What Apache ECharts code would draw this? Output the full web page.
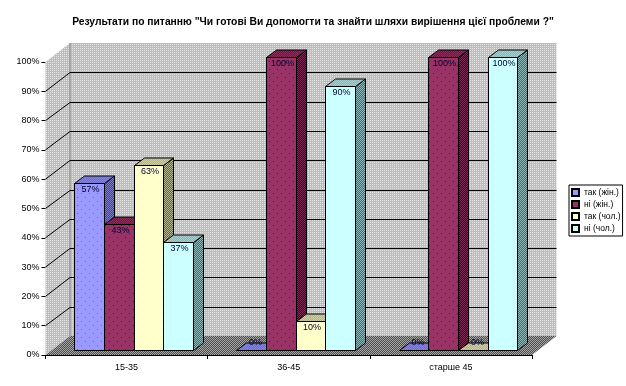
<!DOCTYPE html>
<html>
<head>
<meta charset="utf-8">
<style>html,body{margin:0;padding:0;background:#fff}#main{width:626px;height:386px}</style>
<script src="https://cdn.jsdelivr.net/npm/echarts@6/dist/echarts.min.js"></script>
</head>
<body>
<div id="main"></div>
<script>
var chart = echarts.init(document.getElementById('main'));

var titleText = 'Результати по питанню "Чи готові Ви допомогти та знайти шляхи вирішення цієї проблеми ?"';
var categories = ['15-35', '36-45', 'старше 45'];
var seriesNames = ['так (жін.)', 'ні (жін.)', 'так (чол.)', 'ні (чол.)'];
var yesFemale = [57, 0, 0];
var noFemale = [43, 100, 100];
var yesMale = [63, 10, 0];
var noMale = [37, 90, 100];
var gridTicks = [10, 20, 30, 40, 50, 60, 70, 80, 90];

// розміри псевдо-3D
var wallDx = 24.5, wallDy = -19;
var barShiftX = 7, barShiftY = -5;
var barDx = 10, barDy = -7.5;
var barRatio = 0.183;

// dither fills like the old Excel picture
function pattern(w, h, bg, dots, dotColor) {
    var c = document.createElement('canvas');
    c.width = w; c.height = h;
    var ctx = c.getContext('2d');
    ctx.fillStyle = bg;
    ctx.fillRect(0, 0, w, h);
    ctx.fillStyle = dotColor;
    dots.forEach(function (d) { ctx.fillRect(d[0], d[1], 1, 1); });
    return { image: c, repeat: 'repeat' };
}
function checker(a, b) {
    return pattern(2, 2, a, [[0, 0], [1, 1]], b);
}
function barDots(bg, dot) {
    return pattern(8, 8, bg, [[1, 1], [5, 5]], dot);
}

var wallFill = pattern(2, 2, '#bdbdbd', [[0, 0]], '#e4e4e4');
var floorFill = checker('#4c4c4c', '#a6a6a6');

var barStyles = [
    { color: '#9999ff', front: barDots('#9999ff', '#6a6ad0'), top: checker('#6f6fc4', '#8585e0'), side: checker('#3f3f8c', '#8080c8') },
    { color: '#993366', front: barDots('#993366', '#4c1a33'), top: checker('#5e1f3f', '#8a2e5c'), side: checker('#2a0e1c', '#7a2952') },
    { color: '#ffffcc', front: barDots('#ffffcc', '#f2f2d0'), top: checker('#b0b08c', '#d0d0a8'), side: checker('#60604c', '#b8b894') },
    { color: '#ccffff', front: barDots('#ccffff', '#eeffff'), top: checker('#88b4b4', '#a8d0d0'), side: checker('#4c6666', '#90b8b8') }
];

function px(v) { return Math.round(v) + 0.5; }

function renderWalls(params, api) {
    var cs = params.coordSys;
    var l = cs.x, r = cs.x + cs.width, t = cs.y, b = cs.y + cs.height;
    var children = [
        { type: 'polygon', shape: { points: [[l, t], [l + wallDx, t + wallDy], [r + wallDx, t + wallDy], [r + wallDx, b + wallDy], [l + wallDx, b + wallDy], [l, b]] }, style: { fill: wallFill } },
        { type: 'polygon', shape: { points: [[l, b], [r, b], [r + wallDx, b + wallDy], [l + wallDx, b + wallDy]] }, style: { fill: floorFill } },
        { type: 'line', shape: { x1: l + wallDx, y1: t + wallDy, x2: l + wallDx, y2: b + wallDy }, style: { stroke: '#808080', lineWidth: 1 } }
    ];
    return { type: 'group', children: children };
}

function renderGridLine(params, api) {
    var cs = params.coordSys;
    var y = api.coord([0, api.value(1)])[1];
    var l = cs.x, r = cs.x + cs.width;
    var yb = px(y + wallDy);
    return {
        type: 'group',
        children: [
            { type: 'line', shape: { x1: l, y1: y, x2: l + wallDx, y2: yb }, style: { stroke: '#000', lineWidth: 1 } },
            { type: 'line', shape: { x1: l + wallDx, y1: yb, x2: r + wallDx, y2: yb }, style: { stroke: '#000', lineWidth: 1 } }
        ]
    };
}

function renderBar(seriesIdx) {
    return function (params, api) {
        var v = api.value(1);
        var band = api.size([1, 0])[0];
        var w = band * barRatio;
        var top = api.coord([api.value(0), v]);
        var base = api.coord([api.value(0), 0]);
        var x0 = px(top[0] + barShiftX + (seriesIdx - 2) * w);
        var x1 = px(top[0] + barShiftX + (seriesIdx - 1) * w);
        var yT = px(top[1] + barShiftY);
        var yB = px(base[1] + barShiftY);
        var st = barStyles[seriesIdx];
        var line = { stroke: '#000', lineWidth: 1 };
        var children = [];
        if (v > 0) {
            children.push({ type: 'polygon', shape: { points: [[x1, yT], [x1 + barDx, yT + barDy], [x1 + barDx, yB + barDy], [x1, yB]] }, style: Object.assign({ fill: st.side }, line) });
            children.push({ type: 'rect', shape: { x: x0, y: yT, width: x1 - x0, height: yB - yT }, style: Object.assign({ fill: st.front }, line) });
        }
        children.push({ type: 'polygon', shape: { points: [[x0, yT], [x0 + barDx, yT + barDy], [x1 + barDx, yT + barDy], [x1, yT]] }, style: Object.assign({ fill: st.top }, line) });
        children.push({
            type: 'text',
            style: {
                x: (x0 + x1) / 2 + (v > 0 ? 1 : 4),
                y: v > 0 ? yT + 6 : yT - 8,
                text: v + '%',
                fill: '#000033',
                font: '9px "Liberation Sans"',
                align: 'center',
                verticalAlign: 'middle'
            }
        });
        return { type: 'group', children: children };
    };
}

var values = [yesFemale, noFemale, yesMale, noMale];
var barSeries = values.map(function (arr, i) {
    return {
        name: seriesNames[i],
        type: 'custom',
        z: 3,
        renderItem: renderBar(i),
        encode: { x: 0, y: 1 },
        itemStyle: { color: barStyles[i].color, borderColor: '#000', borderWidth: 1 },
        data: arr.map(function (v, k) { return [k, v]; })
    };
});

var option = {
    animation: false,
    backgroundColor: '#fff',
    textStyle: { fontFamily: '"Liberation Sans"' },
    title: {
        text: titleText,
        left: 'center',
        top: 12,
        textStyle: { fontSize: 10.3, fontWeight: 'bold', color: '#000', fontFamily: '"Liberation Sans"' }
    },
    legend: {
        orient: 'vertical',
        left: 569,
        top: 185,
        padding: [3, 2, 3, 2],
        itemWidth: 7,
        itemHeight: 7,
        itemGap: 3,
        icon: 'rect',
        borderColor: '#000',
        borderWidth: 1,
        backgroundColor: '#fff',
        selectedMode: false,
        textStyle: { fontSize: 8.5, color: '#000' },
        data: seriesNames
    },
    grid: { left: 45.5, top: 62, width: 486.5, height: 293 },
    xAxis: {
        type: 'category',
        data: categories,
        z: 5,
        axisLine: { lineStyle: { color: '#000', width: 1 } },
        axisTick: { show: true, alignWithLabel: false, length: 4, lineStyle: { color: '#000' } },
        axisLabel: { color: '#000', fontSize: 9, margin: 8 },
        splitLine: { show: false }
    },
    yAxis: {
        type: 'value',
        min: 0,
        max: 100,
        interval: 10,
        axisLine: { show: false },
        axisTick: { show: true, length: 4, lineStyle: { color: '#000' } },
        axisLabel: { color: '#000', fontSize: 9, margin: 6, formatter: '{value}%' },
        splitLine: { show: false }
    },
    series: [
        { name: 'walls', type: 'custom', z: 1, silent: true, renderItem: renderWalls, encode: { x: 0, y: 1 }, data: [[0, 0]] },
        { name: 'grid', type: 'custom', z: 2, silent: true, renderItem: renderGridLine, encode: { x: 0, y: 1 }, data: gridTicks.map(function (t) { return [0, t]; }) }
    ].concat(barSeries)
};
chart.setOption(option);
</script>
</body>
</html>
